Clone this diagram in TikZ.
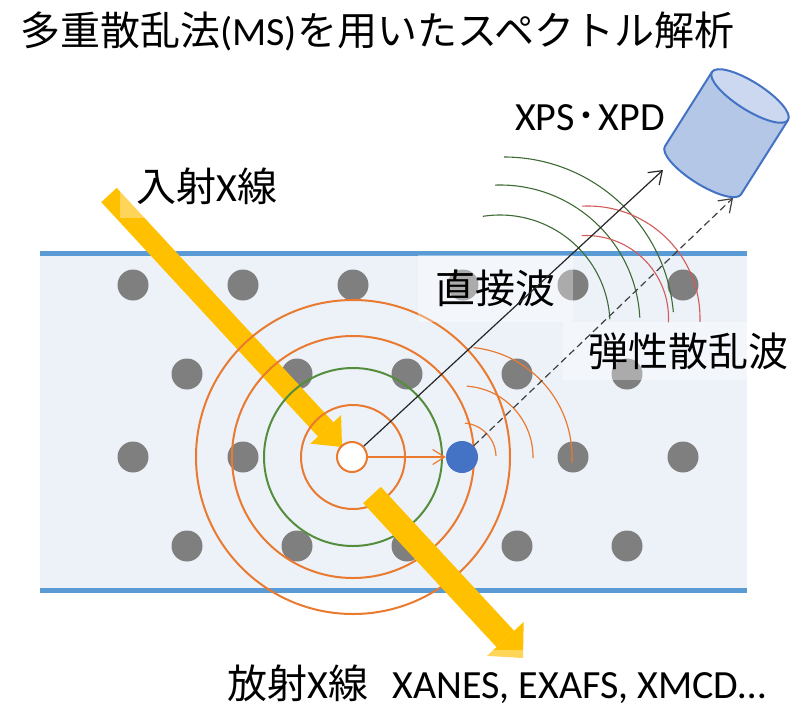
\documentclass[tikz,border=0pt]{standalone}
\usepackage{fontspec}
\setmainfont{Carlito}
\newfontfamily\jp{Noto Sans CJK JP}
\usetikzlibrary{arrows.meta}

\definecolor{bandfill}{HTML}{EDF2F9}
\definecolor{bandline}{HTML}{5B9BD5}
\definecolor{atomgray}{HTML}{7F7F7F}
\definecolor{ringorange}{HTML}{E97A30}
\definecolor{ringgreen}{HTML}{548D3B}
\definecolor{wavegreen}{HTML}{3E6B35}
\definecolor{wavered}{HTML}{D25A5A}
\definecolor{xray}{HTML}{FFC000}
\definecolor{blueatom}{HTML}{4472C4}
\definecolor{detfill}{HTML}{B4C7E7}
\definecolor{dettop}{HTML}{CCD8EF}
\definecolor{detline}{HTML}{4472C4}

\newcommand{\bigfont}{\fontsize{40}{48}\selectfont}

\begin{document}
\begin{tikzpicture}[x=1pt,y=-1pt,
  atom/.style={circle,fill=atomgray,minimum size=31pt,inner sep=0pt},
  emitter/.style={circle,fill=white,draw=ringorange,line width=2pt,minimum size=30pt,inner sep=0pt},
  scatterer/.style={circle,fill=blueatom,minimum size=32pt,inner sep=0pt},
  ring/.style={draw=ringorange,line width=2pt},
  greenring/.style={draw=ringgreen,line width=2pt},
  thinorange/.style={draw=ringorange,line width=1.2pt},
  greenwave/.style={draw=wavegreen,line width=1.1pt},
  redwave/.style={draw=wavered,line width=1.1pt},
  beamin/.style={draw=xray,line width=21pt,-{Triangle[length=24pt,width=42pt,line width=0pt]}},
  beamout/.style={draw=xray,line width=24pt,-{Triangle[length=26pt,width=50pt,line width=0pt]}},
  direct/.style={draw=black!85,line width=1.2pt,-{Straight Barb[length=12pt,width=17pt]}},
  elastic/.style={draw=black!75,line width=1.2pt,dash pattern=on 7pt off 4pt,-{Straight Barb[length=12pt,width=17pt]}},
  hop/.style={draw=ringorange,line width=1.2pt,-{Straight Barb[length=12pt,width=15pt]}},
  lblbox/.style={fill=white,fill opacity=0.35,text opacity=1,inner sep=0pt,font=\bigfont},
  plainlbl/.style={inner sep=0pt,font=\bigfont}
]
\useasboundingbox (0,0) rectangle (790,707);

% sample slab
\fill[bandfill] (40,253) rectangle (747,590);
\draw[bandline,line width=5pt] (40,253) -- (747,253);
\draw[bandline,line width=5pt] (40,590) -- (747,590);

% lattice of atoms
\foreach \x [count=\i] in {133,243,353,463,573,683}
  \node[atom] (r1a\i) at (\x,285) {};
\foreach \x [count=\i] in {187,297,407,517,627}
  \node[atom] (r2a\i) at (\x,374) {};
\foreach \x [count=\i] in {133,243,573,683}
  \node[atom] (r3a\i) at (\x,457) {};
\foreach \x [count=\i] in {187,297,407,517,627}
  \node[atom] (r4a\i) at (\x,546) {};

% incident X-ray
\coordinate (inA) at (109,195);
\coordinate (inB) at (342,447);
\draw[beamin] (inA) -- (inB);

% photoelectron waves around the absorbing atom
\draw[ring] (353,457) circle[radius=52];
\draw[greenring] (353,457) circle[radius=89];
\draw[ring] (353,457) circle[radius=121];
\draw[ring] (353,457) circle[radius=157];

\node[emitter] (ca) at (352,457) {};
\node[scatterer] (ba) at (462,457) {};

% waves scattered by the neighbour
\draw[thinorange] (462,457) ++(-85:34) arc[start angle=-85,end angle=-2,radius=34];
\draw[thinorange] (462,457) ++(-86:71) arc[start angle=-86,end angle=1,radius=71];
\draw[thinorange] (462,457) ++(-84:110) arc[start angle=-84,end angle=3,radius=110];
\draw[hop] (ca) -- (ba);

% emitted X-ray
\coordinate (outA) at (372,495);
\coordinate (outB) at (523,658);
\draw[beamout] (outA) -- (outB);

% labels
\node[lblbox,minimum width=174pt,minimum height=64pt] (lin) at (207,186) {{\jp 入射}X{\jp 線}};
\node[lblbox,minimum width=155pt,minimum height=67pt] (ldir) at (495,288) {{\jp 直接波}};
\node[lblbox,inner xsep=2pt,text width=223pt,align=right,minimum height=58pt] (lsc) at (676.5,351) {{\jp 弾性散乱波}};
\node[lblbox,minimum width=580pt,minimum height=57pt,text height=39pt,text depth=0pt] (lout) at (497,678.5) {{\jp 放射}X{\jp 線}\hspace{24pt}XANES, EXAFS, XMCD…};
\node[plainlbl] (lxps) at (590,118) {XPS\hspace{2pt}{\jp ･}\hspace{2pt}XPD};
\node[plainlbl,anchor=base west] (title) at (20,45) {{\jp 多重散乱法}(MS){\jp を用いたスペクトル解析}};

% outgoing wavefronts
\draw[greenwave] (504,327) ++(-90:170) arc[start angle=-90,end angle=-5,radius=170];
\draw[greenwave] (500,325) ++(-92:140) arc[start angle=-92,end angle=-3,radius=140];
\draw[greenwave] (500,325) ++(-99:110) arc[start angle=-99,end angle=-3,radius=110];
\draw[redwave] (588,318) ++(-93:112) arc[start angle=-93,end angle=2,radius=112];
\draw[redwave] (586,318) ++(-93:82.5) arc[start angle=-93,end angle=3,radius=82.5];

% paths to the detector
\coordinate (dirTip) at (663,170);
\coordinate (scTip) at (733,198);
\draw[direct] (ca) -- (dirTip);
\draw[elastic] (ba) -- (scTip);

% detector
\begin{scope}[shift={(750,96)},rotate=-32.3]
  \fill[detfill] (-45,0) -- (-45,88) arc[start angle=180,end angle=0,x radius=45,y radius=14] -- (45,0) -- cycle;
  \draw[detline,line width=2pt,line join=round] (-45,0) -- (-45,88) arc[start angle=180,end angle=0,x radius=45,y radius=14] -- (45,0);
  \draw[detline,line width=2pt,fill=dettop] (0,0) ellipse[x radius=45,y radius=14];
\end{scope}
\end{tikzpicture}
\end{document}
